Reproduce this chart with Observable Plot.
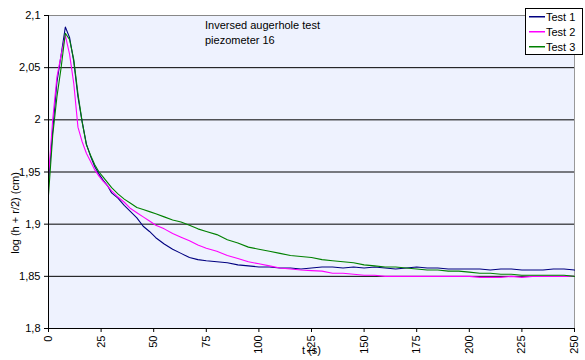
<!DOCTYPE html>
<html><head><meta charset="utf-8">
<script src="https://cdn.jsdelivr.net/npm/d3@7"></script>
<script src="https://cdn.jsdelivr.net/npm/@observablehq/plot@0.6"></script>
<style>body{margin:0;background:#fff}</style>
</head><body><div id="chart"></div>
<script>
const seriesNames = ["Test 1", "Test 2", "Test 3"];
const seriesColors = ["#000080", "#ff00ff", "#008000"];
const times = [0,2,4,6,8,10,12,14,16,18,20,22,24,26,28,30,33,36,39,42,45,48,51,55,59,63,67,71,75,80,85,90,95,100,105,110,115,120,125,130,135,140,145,150,155,160,165,170,175,180,185,190,195,200,205,210,215,220,225,230,235,240,245,250];
const test1 = [1.940,1.990,2.036,2.062,2.089,2.079,2.056,2.022,1.998,1.977,1.965,1.955,1.948,1.942,1.937,1.930,1.925,1.918,1.912,1.906,1.898,1.893,1.887,1.881,1.876,1.872,1.868,1.866,1.865,1.864,1.863,1.861,1.860,1.859,1.859,1.858,1.858,1.857,1.858,1.859,1.859,1.858,1.859,1.858,1.859,1.858,1.857,1.858,1.859,1.858,1.858,1.857,1.857,1.857,1.857,1.856,1.857,1.857,1.856,1.856,1.856,1.857,1.857,1.856];
const test2 = [1.945,2.000,2.041,2.062,2.081,2.063,2.035,1.993,1.979,1.968,1.960,1.952,1.946,1.941,1.937,1.932,1.926,1.921,1.915,1.911,1.907,1.903,1.899,1.8955,1.891,1.8875,1.884,1.880,1.877,1.874,1.870,1.867,1.864,1.862,1.860,1.858,1.857,1.856,1.8555,1.855,1.853,1.853,1.852,1.851,1.851,1.850,1.850,1.850,1.850,1.850,1.850,1.850,1.850,1.850,1.849,1.849,1.849,1.850,1.849,1.850,1.850,1.850,1.850,1.850];
const test3 = [1.928,1.985,2.022,2.050,2.083,2.077,2.058,2.025,1.998,1.976,1.966,1.957,1.950,1.945,1.940,1.935,1.929,1.924,1.920,1.916,1.914,1.912,1.910,1.907,1.904,1.902,1.899,1.8955,1.893,1.890,1.885,1.882,1.878,1.876,1.874,1.872,1.870,1.869,1.868,1.866,1.865,1.864,1.863,1.861,1.860,1.859,1.859,1.858,1.857,1.856,1.856,1.855,1.855,1.854,1.853,1.853,1.852,1.852,1.851,1.851,1.851,1.851,1.851,1.850];
const xTicks = [0,25,50,75,100,125,150,175,200,225,250];
const yTicks = [1.8,1.85,1.9,1.95,2,2.05,2.1];
const gridValues = [1.85,1.9,1.95,2,2.05];
const titleLines = ["Inversed augerhole test", "piezometer 16"];
const xLabel = "t (s)";
const yLabel = "log (h + r/2) (cm)";

const allSeries = [test1, test2, test3];
const rows = [];
allSeries.forEach((vals, i) => vals.forEach((v, j) => rows.push({t: times[j], v, s: seriesNames[i]})));

const font = "'Liberation Sans', Arial, sans-serif";
const chart = Plot.plot({
  width: 585, height: 360,
  marginLeft: 48, marginRight: 11, marginTop: 15, marginBottom: 32,
  style: {fontFamily: font, fontSize: "11px", background: "white", color: "black", overflow: "visible"},
  x: {domain: [0, 250], label: null},
  y: {domain: [1.8, 2.1], label: null},
  color: {domain: seriesNames, range: seriesColors},
  marks: [
    Plot.frame({fill: "#eef2fe", stroke: null}),
    Plot.ruleY(gridValues, {stroke: "black", strokeWidth: 1}),
    Plot.ruleY([2.1], {stroke: "#888", strokeWidth: 1}),
    Plot.ruleX([250], {stroke: "#999", strokeWidth: 1}),
    Plot.line(rows, {x: "t", y: "v", z: "s", stroke: "s", strokeWidth: 1.1}),
    Plot.ruleX([0], {stroke: "black", strokeWidth: 1}),
    Plot.ruleY([1.8], {stroke: "black", strokeWidth: 1}),
    Plot.axisX({ticks: xTicks, tickSize: 4, tickPadding: 3, tickRotate: -90, label: null, fontSize: 11}),
    Plot.axisY({ticks: yTicks, tickSize: 4, tickPadding: 4, tickFormat: d => String(d).replace(".", ","), label: null, fontSize: 11}),
    Plot.text([xLabel], {frameAnchor: "bottom", dy: 25, text: d => d, fontSize: 11})
  ]
});
document.getElementById("chart").appendChild(chart);

const svg = d3.select(chart);
const extra = svg.append("g").attr("font-family", font).attr("font-size", 11).attr("fill", "black").attr("text-anchor", "start");
// y axis title
extra.append("text").attr("transform", "translate(19,213) rotate(-90)").attr("text-anchor", "middle").text(yLabel);
// chart title inside the plot
titleLines.forEach((l, i) => extra.append("text").attr("x", 205).attr("y", 29 + i * 15).text(l));
// legend
extra.append("rect").attr("x", 525.5).attr("y", 8.5).attr("width", 57).attr("height", 46).attr("fill", "white").attr("stroke", "black");
seriesNames.forEach((n, i) => {
  const y = 17 + i * 15;
  extra.append("rect").attr("x", 529).attr("y", y - 1).attr("width", 16).attr("height", 1.5).attr("fill", seriesColors[i]);
  extra.append("text").attr("x", 546).attr("y", y + 4).text(n);
});
</script></body></html>
